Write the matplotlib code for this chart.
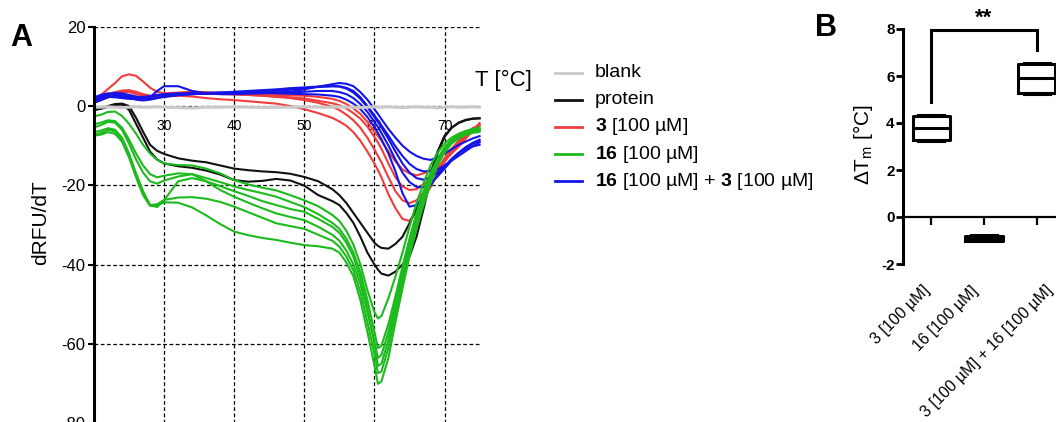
import numpy as np
import matplotlib
matplotlib.use("Agg")
import matplotlib.pyplot as plt
import matplotlib.transforms as mtransforms
from matplotlib import font_manager
from matplotlib.lines import Line2D

_names = {f.name for f in font_manager.fontManager.ttflist}
NARROW = "Liberation Sans Narrow" if "Liberation Sans Narrow" in _names else "Liberation Sans"
plt.rcParams["font.family"] = ["Liberation Sans", "DejaVu Sans"]
plt.rcParams["mathtext.fontset"] = "custom"
plt.rcParams["mathtext.rm"] = NARROW
plt.rcParams["mathtext.bf"] = NARROW + ":bold"

# ---------------- panel A: melt curves (dRFU/dT) ----------------
temp = [20, 21, 22, 23, 24, 25, 26, 27, 28, 29, 30, 32, 34, 36, 38, 40, 42, 44, 46, 48,
        50, 52, 54, 55, 56, 57, 58, 59, 60, 60.5, 61, 62, 63, 64, 65, 66, 67, 68, 69, 70,
        71, 72, 73, 74, 75]

blank = [-0.3, -0.3, -0.2, -0.3, -0.4, -0.3, -0.2, -0.3, -0.3, -0.2, -0.3, -0.4, -0.5, -0.3,
         -0.3, -0.2, -0.3, -0.4, -0.3, -0.3, -0.2, -0.3, -0.3, -0.2, -0.3, -0.3, -0.4, -0.3,
         -0.2, -0.3, -0.3, -0.2, -0.3, -0.4, -0.3, -0.2, -0.3, -0.3, -0.5, -0.3, -0.2, -0.3,
         -0.3, -0.2, -0.3]

protein_1 = [-1.0, -0.6, 0.0, 0.5, 0.6, 0.0, -3.0, -6.5, -9.8, -11.3, -12.1, -13.2, -13.8,
             -14.2, -15.0, -15.8, -16.2, -16.5, -16.7, -17.1, -17.9, -19.0, -21.0, -22.5,
             -24.5, -27.0, -29.5, -32.0, -34.5, -35.3, -35.8, -36.0, -34.8, -33.0, -29.6,
             -26.0, -22.0, -17.0, -11.5, -7.5, -5.5, -4.3, -3.6, -3.2, -3.1]
protein_2 = [-1.0, -0.7, -0.2, 0.2, 0.4, -1.0, -4.5, -8.0, -11.5, -13.5, -14.5, -15.2, -15.6,
             -16.3, -17.3, -18.7, -19.1, -18.9, -18.4, -18.8, -20.1, -22.5, -24.0, -25.0,
             -27.0, -29.5, -33.0, -37.0, -40.0, -41.3, -42.3, -42.8, -41.8, -40.0, -38.0,
             -33.0, -26.0, -18.5, -12.0, -7.8, -5.5, -4.2, -3.5, -3.2, -3.1]

cmpd3 = [
    [1.5, 2.8, 4.3, 5.8, 7.5, 8.0, 7.6, 6.2, 4.6, 3.6, 3.2, 3.4, 3.6, 3.5, 3.3, 3.2, 3.0, 2.9,
     2.8, 2.7, 2.6, 2.3, 1.8, 1.3, 0.5, -0.6, -2.0, -4.0, -6.5, -7.6, -8.8, -11.5, -14.0,
     -16.0, -17.0, -17.5, -17.0, -16.2, -15.3, -13.8, -12.0, -10.3, -8.3, -6.2, -4.3],
    [1.0, 1.8, 2.6, 3.2, 3.6, 3.5, 3.0, 2.5, 2.2, 2.2, 2.4, 2.8, 3.0, 3.1, 3.0, 2.9, 2.8, 2.6,
     2.4, 2.2, 1.9, 1.3, 0.7, 0.2, -0.6, -1.8, -3.2, -5.2, -7.8, -9.2, -10.8, -14.5, -18.0,
     -20.3, -21.2, -21.0, -19.8, -18.3, -16.3, -14.0, -11.8, -9.8, -7.8, -6.0, -4.8],
    [2.0, 2.5, 3.0, 3.5, 3.9, 4.0, 3.6, 3.0, 2.6, 2.4, 2.5, 2.9, 3.2, 3.3, 3.2, 3.0, 2.8, 2.6,
     2.3, 2.0, 1.5, 0.8, -0.2, -1.0, -2.2, -3.6, -5.5, -8.0, -11.0, -12.6, -14.2, -18.0, -21.5,
     -23.8, -24.5, -23.8, -21.8, -19.0, -16.0, -13.2, -10.8, -8.8, -7.0, -5.6, -4.9],
    [0.8, 1.5, 2.2, 3.0, 3.6, 3.7, 3.2, 2.6, 2.2, 2.2, 2.4, 2.6, 2.4, 2.0, 1.7, 1.5, 1.2, 0.9,
     0.6, 0.0, -0.8, -1.8, -3.0, -3.9, -5.0, -6.6, -8.8, -11.5, -14.5, -16.2, -18.0, -22.3,
     -25.8, -28.5, -29.0, -26.5, -23.5, -20.5, -17.0, -14.0, -11.5, -9.4, -7.5, -5.8, -4.8],
]

cmpd16 = [
    [-2.6, -2.2, -1.5, -1.4, -2.5, -4.5, -7.0, -9.8, -12.0, -13.6, -14.5, -14.9, -15.0, -15.8,
     -17.0, -18.7, -19.8, -20.6, -21.3, -22.5, -23.8, -25.3, -27.5, -29.0, -31.5, -35.0, -40.0,
     -46.5, -52.0, -53.6, -53.0, -48.5, -43.0, -37.0, -30.5, -24.5, -19.5, -15.0, -11.8, -9.5,
     -8.0, -7.0, -6.3, -5.8, -5.4],
    [-4.6, -4.2, -3.6, -3.8, -5.5, -8.5, -12.0, -15.0, -17.2, -18.0, -17.6, -17.0, -17.2, -18.2,
     -19.2, -20.3, -21.2, -22.0, -22.9, -24.2, -25.5, -27.3, -29.5, -31.0, -33.5, -37.0, -42.0,
     -49.0, -57.0, -61.1, -60.5, -55.0, -48.0, -40.5, -33.5, -27.0, -21.5, -17.0, -13.3, -10.5,
     -8.6, -7.4, -6.6, -6.1, -5.8],
    [-5.4, -4.8, -4.0, -4.2, -6.0, -9.5, -13.5, -16.8, -19.0, -19.6, -18.8, -17.8, -17.2, -19.0,
     -21.2, -22.9, -24.4, -25.8, -27.1, -28.0, -28.8, -30.5, -32.5, -34.0, -36.5, -40.0, -45.0,
     -52.0, -59.5, -63.6, -62.8, -57.0, -49.5, -41.5, -34.0, -27.5, -22.0, -17.3, -13.5, -10.6,
     -8.7, -7.5, -6.7, -6.2, -5.9],
    [-7.2, -6.8, -6.0, -6.4, -8.5, -12.5, -17.5, -22.0, -25.0, -25.5, -23.8, -19.0, -18.2, -19.0,
     -20.2, -21.5, -22.7, -24.0, -25.0, -26.0, -26.7, -28.5, -30.5, -32.0, -34.5, -38.0, -43.5,
     -51.0, -60.0, -65.6, -65.0, -59.0, -51.0, -43.0, -35.0, -28.5, -22.5, -17.8, -13.8, -10.8,
     -8.8, -7.6, -6.8, -6.3, -6.0],
    [-6.6, -6.2, -5.6, -6.0, -8.0, -12.0, -17.0, -21.5, -25.0, -24.8, -23.7, -23.1, -23.0, -23.4,
     -24.2, -25.4, -26.8, -28.2, -29.6, -30.3, -31.0, -32.5, -34.0, -35.5, -38.0, -41.5, -47.0,
     -54.5, -62.5, -67.4, -67.0, -61.0, -52.5, -44.5, -36.5, -29.5, -23.5, -18.5, -14.3, -11.2,
     -9.0, -7.8, -7.0, -6.5, -6.2],
    [-7.5, -7.2, -6.6, -7.0, -9.0, -13.0, -18.0, -22.5, -25.2, -25.0, -24.3, -24.4, -25.6, -27.6,
     -29.8, -31.7, -32.6, -33.3, -33.8, -34.5, -35.1, -35.4, -36.0, -37.0, -39.5, -43.0, -49.0,
     -57.0, -65.5, -70.1, -69.5, -63.5, -54.5, -46.0, -38.0, -31.0, -25.0, -19.5, -15.0, -11.8,
     -9.5, -8.2, -7.3, -6.8, -6.5],
]

cmpd16_3 = [
    [1.5, 2.2, 2.8, 3.0, 2.8, 2.4, 2.0, 1.8, 2.2, 3.8, 5.0, 5.0, 3.8, 3.2, 3.0, 3.0, 3.1, 3.2,
     3.4, 3.6, 4.2, 4.9, 5.5, 5.8, 5.6, 5.0, 3.5, 1.6, -0.8, -2.0, -3.3, -5.8, -8.0, -10.0,
     -11.5, -12.6, -13.3, -13.6, -13.0, -12.0, -10.9, -9.8, -9.0, -8.2, -7.6],
    [2.2, 2.8, 3.2, 3.0, 2.6, 2.3, 2.2, 2.3, 2.5, 2.8, 3.0, 3.2, 3.2, 3.2, 3.2, 3.3, 3.4, 3.6,
     3.8, 4.1, 4.5, 4.8, 5.0, 5.0, 4.6, 3.8, 2.2, 0.0, -2.4, -3.6, -4.9, -7.5, -10.2, -12.6,
     -14.6, -15.9, -16.5, -16.4, -16.0, -15.0, -13.8, -12.6, -11.4, -10.2, -9.2],
    [0.8, 1.5, 2.2, 2.6, 2.4, 2.0, 1.6, 1.4, 1.6, 2.0, 2.3, 2.7, 3.0, 3.1, 3.2, 3.3, 3.3, 3.3,
     3.3, 3.4, 3.6, 3.8, 3.8, 3.5, 3.0, 2.0, 0.5, -1.5, -4.0, -5.3, -6.8, -10.0, -13.5, -16.8,
     -19.2, -20.4, -20.5, -19.5, -17.8, -15.8, -13.8, -12.0, -10.6, -9.6, -8.8],
    [1.2, 1.8, 2.3, 2.2, 2.0, 1.8, 1.8, 2.0, 2.3, 2.6, 2.8, 3.0, 3.2, 3.3, 3.4, 3.4, 3.4, 3.3,
     3.2, 3.1, 3.0, 2.9, 2.6, 2.3, 1.6, 0.6, -0.8, -2.8, -5.3, -6.8, -8.4, -12.0, -16.5, -22.0,
     -25.4, -25.0, -23.0, -20.0, -17.5, -15.3, -13.4, -11.9, -10.9, -10.2, -9.8],
    [1.8, 2.5, 3.0, 3.3, 3.2, 2.8, 2.4, 2.0, 1.8, 2.0, 2.4, 2.8, 3.0, 3.2, 3.4, 3.6, 3.8, 4.0,
     4.2, 4.5, 4.7, 4.9, 5.0, 4.9, 4.4, 3.4, 1.8, -0.3, -2.8, -4.0, -5.4, -8.3, -11.5, -14.5,
     -16.8, -18.2, -18.6, -18.0, -16.8, -15.2, -13.4, -11.8, -10.4, -9.3, -8.5],
]

legend_labels = ["blank", "protein", r"$\mathbf{3}$ [100 µM]", r"$\mathbf{16}$ [100 µM]",
                 r"$\mathbf{16}$ [100 µM] + $\mathbf{3}$ [100 µM]"]

# ---------------- panel B: delta Tm box plot ----------------
groups_b = ["3 [100 µM]", "16 [100 µM]", "3 [100 µM] + 16 [100 µM]"]
box_q1 = [3.28, -1.0, 5.26]
box_med = [3.79, -0.9, 5.9]
box_q3 = [4.3, -0.8, 6.5]
box_lo = [3.25, -1.02, 5.22]
box_hi = [4.32, -0.75, 6.55]
label_x_b = [-0.17, 0.75, 2.15]   # anchor of each slanted label (category units)

C_GREY, C_BLACK, C_RED, C_GREEN, C_BLUE = "#c9c9c9", "#111111", "#f03c3c", "#1cba1c", "#1414e8"

fig = plt.figure(figsize=(10.56, 4.22), dpi=100)

# ======================= A =======================
ax = fig.add_axes([94 / 1056, -0.0024, (481 - 94) / 1056, 0.939])
ax.set_axisbelow(True)
ax.set_xlim(20, 75.2)
ax.set_ylim(-80, 20)
lw = 1.5
for v in cmpd3:
    ax.plot(temp, v, color=C_RED, lw=lw)
ax.plot(temp, protein_1, color=C_BLACK, lw=lw)
ax.plot(temp, protein_2, color=C_BLACK, lw=lw)
for v in cmpd16_3:
    ax.plot(temp, v, color=C_BLUE, lw=lw)
ax.plot(temp, blank, color=C_GREY, lw=2.2)
for v in cmpd16:
    ax.plot(temp, v, color=C_GREEN, lw=lw)

ax.set_xticks([20, 30, 40, 50, 60, 70])
ax.set_xticklabels(["", "30", "40", "50", "60", "70"], fontfamily=NARROW, fontsize=12)
ax.set_yticks([20, 0, -20, -40, -60, -80])
ax.set_yticklabels(["20", "0", "-20", "-40", "-60", "-80"], fontfamily=NARROW, fontsize=12)
ax.spines["bottom"].set_position(("data", 0))
ax.spines["bottom"].set_color("none")
ax.spines["top"].set_visible(False)
ax.spines["right"].set_visible(False)
ax.spines["left"].set_linewidth(2.2)
ax.tick_params(axis="x", length=0, pad=9)
ax.tick_params(axis="y", length=4, width=1.5, pad=2)
ax.grid(True, color="black", lw=0.9, ls=(0, (3, 2)))

fig.text(40.5 / 1056, 1 - 223 / 422, "dRFU/dT", rotation=90, ha="center", va="center",
         fontsize=15, fontfamily=NARROW)
fig.text(503 / 1056, 1 - 80 / 422, "T [°C]", ha="center", va="center", fontsize=16,
         fontfamily=NARROW)
fig.text(21 / 1056, 1 - 38 / 422, "A", ha="center", va="center", fontsize=22,
         fontweight="bold")

# legend drawn by hand so positions follow the reference
leg_colors = [C_GREY, C_BLACK, C_RED, C_GREEN, C_BLUE]
for i, (lab, col) in enumerate(zip(legend_labels, leg_colors)):
    yy = 1 - (72.5 + 27.2 * i) / 422
    fig.add_artist(Line2D([555 / 1056, 582 / 1056], [yy, yy], color=col, lw=2,
                          transform=fig.transFigure))
    fig.text(595 / 1056, yy, lab, ha="left", va="center", fontsize=14, fontfamily=NARROW)

# ======================= B =======================
bx = fig.add_axes([903 / 1056, 1 - 264 / 422, (1056 - 903) / 1056, (264 - 29) / 422])
stats = [dict(med=m, q1=a, q3=b, whislo=lo, whishi=hi, label=g)
         for g, a, m, b, lo, hi in zip(groups_b, box_q1, box_med, box_q3, box_lo, box_hi)]
bx.bxp(stats, positions=range(len(groups_b)), widths=0.7, capwidths=0.5, showfliers=False,
       boxprops=dict(lw=2.2, color="black"), medianprops=dict(lw=2.2, color="black"),
       whiskerprops=dict(lw=2.2, color="black"), capprops=dict(lw=2.2, color="black"))
bx.set_xlim(-0.53, 2.36)
bx.set_ylim(-2, 8)
bx.set_yticks([-2, 0, 2, 4, 6, 8])
bx.set_yticklabels(["-2", "0", "2", "4", "6", "8"], fontweight="bold", fontsize=11)
bx.set_xticks(range(len(groups_b)))
bx.set_xticklabels([])
bx.spines["bottom"].set_position(("data", 0))
bx.spines["bottom"].set_linewidth(1.6)
bx.spines["left"].set_linewidth(2.2)
bx.spines["top"].set_visible(False)
bx.spines["right"].set_visible(False)
bx.tick_params(axis="y", length=5, width=2, pad=1)
bx.tick_params(axis="x", length=6, width=1.6, direction="out")

trans = mtransforms.blended_transform_factory(bx.transData, bx.transAxes)
for xl, g in zip(label_x_b, groups_b):
    bx.text(xl, -0.08, g, transform=trans, rotation=45, ha="right", va="top",
            rotation_mode="anchor", fontsize=11.5, clip_on=False)

# significance bracket
bx.plot([0, 0, 2, 2], [4.9, 7.95, 7.95, 7.1], color="black", lw=2.2, clip_on=False,
        solid_joinstyle="miter")
bx.text(1, 8.0, "**", ha="center", va="bottom", fontsize=16, fontweight="bold",
        clip_on=False)

fig.text(863 / 1056, 1 - 145 / 422, r"ΔT$_\mathrm{m}$ [°C]", rotation=90, ha="center",
         va="center", fontsize=15)
fig.text(826 / 1056, 1 - 28 / 422, "B", ha="center", va="center", fontsize=22,
         fontweight="bold")

fig.savefig("out.png", dpi=100)
